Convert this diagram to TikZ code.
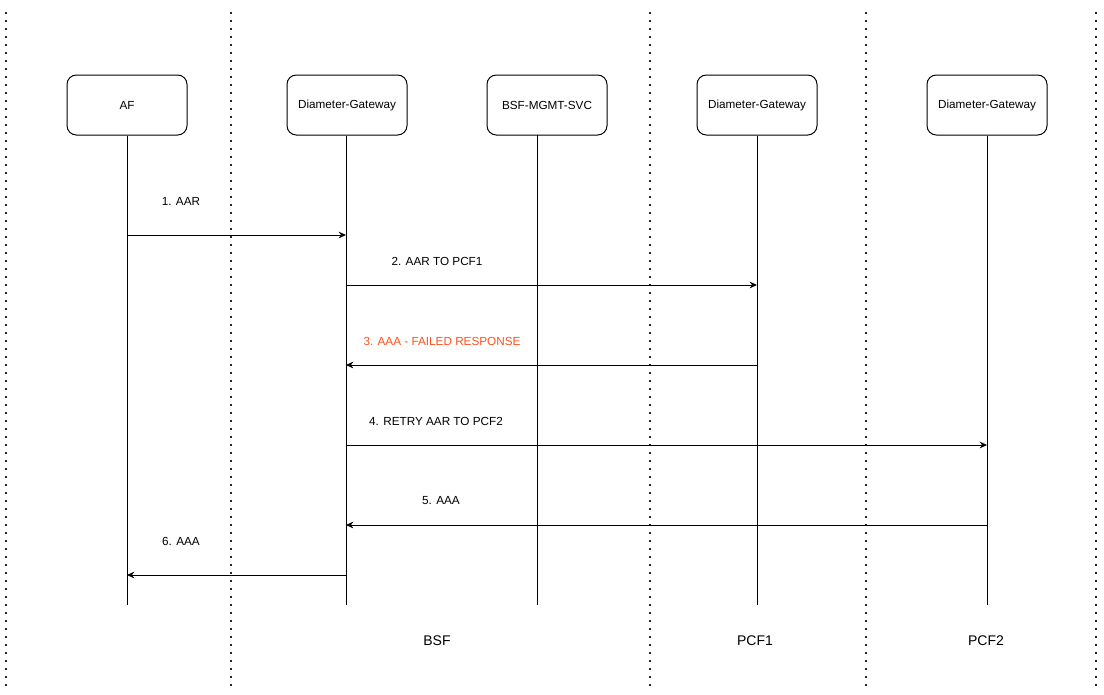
\documentclass[tikz,border=0pt]{standalone}
\usepackage{fontspec}
\setmainfont{Liberation Sans}
\usetikzlibrary{arrows.meta,calc}
\definecolor{failorange}{RGB}{255,80,30}
\begin{document}
\begin{tikzpicture}[x=0.75pt,y=-0.75pt,
  lane/.style={line width=1.2pt,dash pattern=on 1.2pt off 4.8pt,black!85},
  actor/.style={draw,line width=0.75pt,rounded corners=7pt,minimum width=90pt,minimum height=45pt,inner sep=0pt,font=\fontsize{8.8}{10}\selectfont},
  life/.style={line width=0.75pt},
  msg/.style={line width=0.75pt,-{Stealth[length=5.5pt,width=5pt,inset=1.8pt]}},
  msglabel/.style={font=\fontsize{8.8}{10}\selectfont,inner sep=0pt},
  group/.style={font=\fontsize{10.5}{12}\selectfont,inner sep=0pt}]
\useasboundingbox (0,0) rectangle (1104,694);
% dotted lane separators
\foreach \x/\n in {6/a,231/b,650/c,866/d,1096/e}{
  \coordinate (top\n) at (\x,12);
  \coordinate (bot\n) at (\x,687);
  \draw[lane] (top\n) -- (bot\n);
}
% actors
\node[actor] (af) at (127,105) {AF};
\node[actor] (dg1) at (347,105) {Diameter-Gateway};
\node[actor] (mgmt) at (547,105) {BSF-MGMT-SVC};
\node[actor] (dg2) at (757,105) {Diameter-Gateway};
\node[actor] (dg3) at (987,105) {Diameter-Gateway};
% lifeline ends
\coordinate (afE) at (127,605);
\coordinate (dg1E) at (346,605);
\coordinate (mgmtS) at (537,135);
\coordinate (mgmtE) at (537,605);
\coordinate (dg2E) at (757,605);
\coordinate (dg3E) at (987,605);
\draw[life] (af.south) -- (afE);
\draw[life] (dg1.south -| dg1E) -- (dg1E);
\draw[life] (mgmtS) -- (mgmtE);
\draw[life] (dg2.south) -- (dg2E);
\draw[life] (dg3.south) -- (dg3E);
% message points
\coordinate (m1a) at (127,235); \coordinate (m1b) at (346,235);
\coordinate (m2a) at (346,285); \coordinate (m2b) at (757,285);
\coordinate (m3a) at (757,365); \coordinate (m3b) at (346,365);
\coordinate (m4a) at (346,445); \coordinate (m4b) at (987,445);
\coordinate (m5a) at (987,525); \coordinate (m5b) at (346,525);
\coordinate (m6a) at (346,575); \coordinate (m6b) at (127,575);
\draw[msg] (m1a) -- (m1b);
\draw[msg] (m2a) -- (m2b);
\draw[msg] (m3a) -- (m3b);
\draw[msg] (m4a) -- (m4b);
\draw[msg] (m5a) -- (m5b);
\draw[msg] (m6a) -- (m6b);
% labels
\node[msglabel] (l1) at (181,201) {1. AAR};
\node[msglabel] (l2) at (437,261) {2. AAR TO PCF1};
\node[msglabel,text=failorange] (l3) at (442,341) {3. AAA - FAILED RESPONSE};
\node[msglabel] (l4) at (436,421) {4. RETRY AAR TO PCF2};
\node[msglabel] (l5) at (441,501) {5. AAA};
\node[msglabel] (l6) at (181,541) {6. AAA};
% groups
\node[group] (gbsf) at (437,641) {BSF};
\node[group] (gpcf1) at (755,641) {PCF1};
\node[group] (gpcf2) at (986,641) {PCF2};
\end{tikzpicture}
\end{document}
